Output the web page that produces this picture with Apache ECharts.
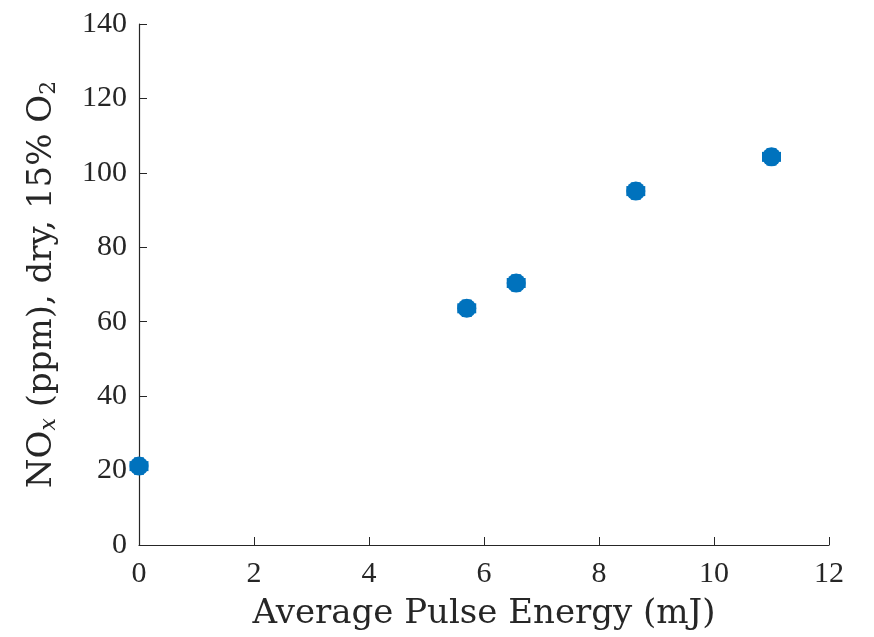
<!DOCTYPE html>
<html>
<head>
<meta charset="utf-8">
<script src="https://cdn.jsdelivr.net/npm/echarts@6/dist/echarts.min.js"></script>
<style>
  html, body { margin: 0; padding: 0; background: #fff; }
  #chart { width: 874px; height: 637px; }
</style>
</head>
<body>
<div id="chart"></div>
<script>
// pulse energy (mJ) vs NOx (ppm)
const pulseEnergy = [0, 5.7, 6.56, 8.64, 11.0]
const noxPpm = [21.2, 63.6, 70.4, 95.1, 104.3]
const xError = [0.13, 0.13, 0.13, 0.13, 0.13]
const yError = [1.8, 1.8, 1.8, 1.8, 1.8]

const axisColor = '#262626'
const markerColor = '#0072BD'
const font = '"Liberation Serif", "DejaVu Serif", serif'
const nameFont = '"DejaVu Serif", "Liberation Serif", serif'

const points = pulseEnergy.map((x, i) => [x, noxPpm[i], xError[i], yError[i]])

const chart = echarts.init(document.getElementById('chart'), null, { renderer: 'canvas' })

chart.setOption({
  backgroundColor: '#fff',
  animation: false,
  grid: { left: 139, right: 45, top: 24, bottom: 92, containLabel: false, outerBoundsMode: 'none' },
  xAxis: {
    type: 'value',
    min: 0,
    max: 12,
    interval: 2,
    name: 'Average Pulse Energy (mJ)',
    nameLocation: 'middle',
    nameGap: 52,
    nameTextStyle: { color: axisColor, fontFamily: nameFont, fontSize: 34 },
    axisLine: { show: true, lineStyle: { color: axisColor, width: 1.2 } },
    axisTick: { show: true, inside: true, length: 8, lineStyle: { color: axisColor } },
    axisLabel: { color: axisColor, fontFamily: font, fontSize: 30, margin: 14 },
    splitLine: { show: false },
  },
  yAxis: {
    type: 'value',
    min: 0,
    max: 140,
    interval: 20,
    name: 'NO{sub|x} (ppm), dry, 15% O{sub2|2}',
    nameLocation: 'middle',
    nameRotate: 90,
    nameGap: 79,
    nameTextStyle: {
      color: axisColor, fontFamily: nameFont, fontSize: 34,
      rich: {
        sub: { fontFamily: nameFont, fontStyle: 'italic', fontSize: 22, color: axisColor, verticalAlign: 'bottom', padding: [14, 0, 0, 0] },
        sub2: { fontFamily: nameFont, fontSize: 22, color: axisColor, verticalAlign: 'bottom', padding: [14, 0, 0, 0] },
      },
    },
    axisLine: { show: true, lineStyle: { color: axisColor, width: 1.2 } },
    axisTick: { show: true, inside: true, length: 8, lineStyle: { color: axisColor } },
    axisLabel: { color: axisColor, fontFamily: font, fontSize: 30, margin: 12 },
    splitLine: { show: false },
  },
  series: [
    {
      name: 'error',
      type: 'custom',
      data: points,
      z: 2,
      renderItem(params, api) {
        const x = api.value(0)
        const y = api.value(1)
        const dx = api.value(2)
        const dy = api.value(3)
        const l = api.coord([x - dx, y])
        const r = api.coord([x + dx, y])
        const t = api.coord([x, y + dy])
        const b = api.coord([x, y - dy])
        const style = { stroke: markerColor, lineWidth: 4 }
        const cap = 5
        return {
          type: 'group',
          children: [
            { type: 'line', shape: { x1: l[0], y1: l[1], x2: r[0], y2: r[1] }, style },
            { type: 'line', shape: { x1: t[0], y1: t[1], x2: b[0], y2: b[1] }, style },
            { type: 'line', shape: { x1: l[0], y1: l[1] - cap, x2: l[0], y2: l[1] + cap }, style },
            { type: 'line', shape: { x1: r[0], y1: r[1] - cap, x2: r[0], y2: r[1] + cap }, style },
            { type: 'line', shape: { x1: t[0] - cap, y1: t[1], x2: t[0] + cap, y2: t[1] }, style },
            { type: 'line', shape: { x1: b[0] - cap, y1: b[1], x2: b[0] + cap, y2: b[1] }, style },
          ],
        }
      },
    },
    {
      name: 'NOx',
      type: 'scatter',
      data: points.map((p) => [p[0], p[1]]),
      symbol: 'circle',
      symbolSize: 19,
      itemStyle: { color: markerColor, opacity: 1 },
      z: 3,
    },
  ],
})
</script>
</body>
</html>
